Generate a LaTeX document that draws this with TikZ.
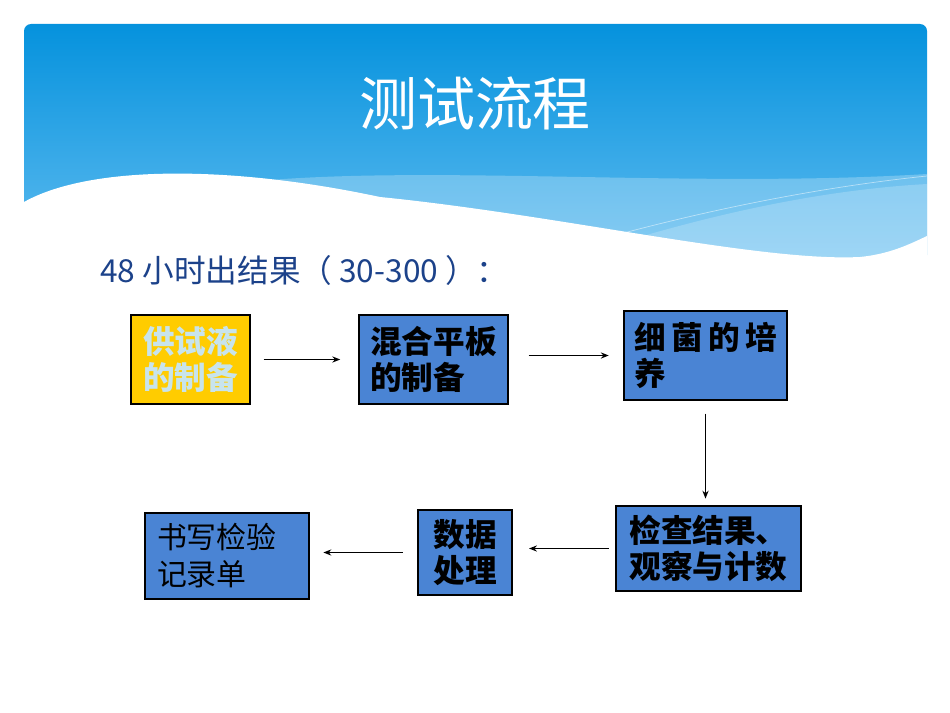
\documentclass[tikz,border=0pt]{standalone}
\usepackage{fontspec}
\setmainfont{Noto Sans CJK SC}
\usetikzlibrary{arrows.meta,positioning}
\definecolor{headtop}{RGB}{5,146,221}
\definecolor{headbottom}{RGB}{96,188,240}
\definecolor{boxblue}{RGB}{74,132,212}
\definecolor{boxyellow}{RGB}{255,204,0}
\definecolor{palecyan}{RGB}{200,228,236}
\definecolor{subblue}{RGB}{28,66,138}

\begin{document}
\begin{tikzpicture}[x=0.02cm,y=-0.02cm,>={Stealth[length=4.5pt,width=3.5pt]},
 stepbox/.style={draw=black,line width=1.4pt,fill=boxblue,align=left,inner sep=0pt,
  font=\fontsize{18}{20.5}\selectfont\bfseries},
 flow/.style={->,line width=0.75pt}]
\useasboundingbox (0,0) rectangle (950,713);
% header band
\shade[top color=headtop,bottom color=headbottom,rounded corners=4pt] (24,24) rectangle (927,262);
\fill[white,opacity=.25] (270,180) .. controls (450,166) and (700,188) .. (927,174)
 -- (927,262) -- (270,262) -- cycle;
\fill[white,opacity=.2] (560,262) .. controls (700,215) and (820,190) .. (927,184)
 -- (927,262) -- cycle;
\draw[white,opacity=.5,line width=0.4pt] (580,245) .. controls (720,205) and (840,185) .. (927,176);
\fill[white] (24,202) .. controls (90,165) and (230,165) .. (380,197)
 .. controls (560,215) and (760,262) .. (860,257)
 .. controls (890,254) and (910,244) .. (927,236) -- (927,266) -- (24,266) -- cycle;
\node[text=white,font=\fontsize{33}{36}\selectfont] (title) at (475,103) {测试流程};
\node[anchor=west,inner sep=0pt,text=subblue,font=\fontsize{18}{20}\selectfont] (subtitle) at (100,270)
 {48 小时出结果（ 30-300 ）：};
% steps
\node[stepbox,fill=boxyellow,text=palecyan,minimum width=2.38cm,minimum height=1.78cm] (prep) at (190.5,359.5)
 {供试液\\的制备};
\node[stepbox,minimum width=2.98cm,minimum height=1.78cm] (plate) at (433.5,359.5)
 {混合平板\\的制备};
\node[stepbox,minimum width=3.26cm,minimum height=1.78cm] (culture) at (705.5,355.5)
 {细\hspace{3pt}菌\hspace{3pt}的\hspace{3pt}培\\养};
\node[stepbox,minimum width=3.70cm,minimum height=1.70cm] (check) at (708.5,548.5)
 {检查结果、\\观察与计数};
\node[stepbox,minimum width=1.88cm,minimum height=1.70cm] (data) at (465,552.5)
 {数据\\处理};
\node[stepbox,minimum width=3.28cm,minimum height=1.72cm,text width=2.8cm,
 font=\fontsize{17}{21}\selectfont] (record) at (227,556)
 {书写检验\\记录单};
% arrows
\draw[flow,shorten <=7pt,shorten >=10pt] (prep.east) -- (prep.east -| plate.west);
\draw[flow,shorten <=11pt,shorten >=8pt] (plate.east |- culture.west) -- (culture.west);
\draw[flow,shorten <=7pt,shorten >=3.5pt] (culture.south) -- (culture.south |- check.north);
\draw[flow,shorten <=3.5pt,shorten >=9pt] (check.west) -- (check.west -| data.east);
\draw[flow,shorten <=8pt,shorten >=7.5pt] (data.west) -- (data.west -| record.east);
\end{tikzpicture}
\end{document}
